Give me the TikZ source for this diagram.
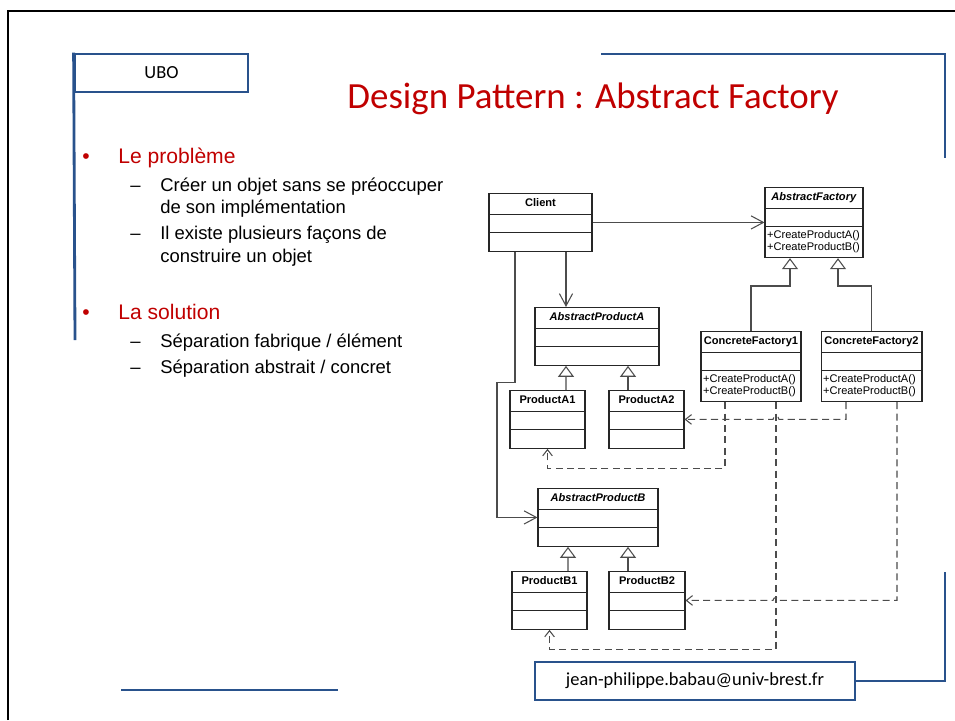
\documentclass[tikz,border=0pt]{standalone}
\usepackage{fontspec}
\setmainfont{Liberation Sans}
\newfontfamily\calibri{Carlito}
\usetikzlibrary{shapes.multipart,arrows.meta,calc}

\definecolor{slidered}{RGB}{192,0,0}
\definecolor{slideblue}{RGB}{41,82,140}

% compartments of a class box
\newcommand\namepart[1]{\rule[-4pt]{0pt}{11.3pt}#1}
\newcommand\emptypart{\rule{0pt}{9.9pt}}
\newcommand\opline[1]{\makebox[\linewidth][l]{\hspace{1.2pt}#1}}
\newcommand\opspart{\rule{0pt}{6.5pt}\opline{+CreateProductA()}\\
  \opline{+CreateProductB()}\rule[-3.6pt]{0pt}{3.6pt}}

\begin{document}
\begin{tikzpicture}[x=0.02cm,y=-0.02cm,
    umlclass/.style={rectangle split, rectangle split parts=3, draw=black!85,
      line width=0.6pt, fill=white, text width=#1, align=center, inner xsep=0pt,
      inner ysep=0pt, anchor=north, font=\fontsize{6.3}{6.8}\selectfont},
    assoc/.style={draw=black!70, line width=0.6pt, -{Straight Barb[length=7pt,width=7.5pt]}},
    inherit/.style={draw=black!70, line width=0.6pt, -{Triangle[open,length=6.2pt,width=9pt,fill=white]}},
    depend/.style={draw=black!70, line width=0.6pt, dash pattern=on 4pt off 2.5pt,
      -{Straight Barb[length=3.5pt,width=5.5pt]}},
    blueline/.style={draw=slideblue, line width=1.6pt},
    bulletmark/.style={anchor=base west, inner sep=0pt, text=slidered, font=\fontsize{12}{14}\selectfont},
    heading/.style={anchor=base west, inner sep=0pt, text=slidered, font=\fontsize{12}{14}\selectfont},
    dashmark/.style={anchor=base west, inner sep=0pt, font=\fontsize{10.5}{12.5}\selectfont},
    subitem/.style={anchor=base west, inner sep=0pt, font=\fontsize{10.5}{12.5}\selectfont}]
  \useasboundingbox (0,0) rectangle (955,720);

  % slide frame and decoration
  \draw[line width=1.2pt] (8,720) -- (8,11) -- (955,11);
  \node[draw=slideblue, line width=1.6pt, minimum width=3.46cm, minimum height=0.76cm,
    inner sep=0pt, font=\calibri\fontsize{10.5}{12}\selectfont] (ubo) at (161.5,73) {UBO};
  \draw[blueline] (ubo.north west) -- (75,340);
  \draw[blueline] (601,54) -- (945,54) -- (945,158);
  \draw[blueline] (121,690) -- (338,690);
  \node[draw=slideblue, line width=1.6pt, minimum width=6.4cm, minimum height=0.76cm,
    inner sep=0pt, font=\calibri\fontsize{10.5}{12}\selectfont] (mail) at (695,681)
    {jean-philippe.babau@univ-brest.fr};
  \draw[blueline] (mail.east) -| (945,572);

  \node[anchor=base, inner sep=0pt, text=slidered, font=\calibri\fontsize{21}{24}\selectfont]
    (title) at (593,108) {Design Pattern : Abstract Factory};

  % text
  \node[bulletmark] (b1) at (82,163) {•};
  \node[heading] (h1) at (118,163) {Le problème};
  \node[dashmark] (d1) at (130,191) {–};
  \node[subitem] (s1a) at (160,191) {Créer un objet sans se préoccuper};
  \node[subitem] (s1b) at (160,213) {de son implémentation};
  \node[dashmark] (d2) at (130,239) {–};
  \node[subitem] (s2a) at (160,239) {Il existe plusieurs façons de};
  \node[subitem] (s2b) at (160,262) {construire un objet};
  \node[bulletmark] (b2) at (82,319) {•};
  \node[heading] (h2) at (118,319) {La solution};
  \node[dashmark] (d3) at (130,347) {–};
  \node[subitem] (s3) at (160,347) {Séparation fabrique / élément};
  \node[dashmark] (d4) at (130,373) {–};
  \node[subitem] (s4) at (160,373) {Séparation abstrait / concret};

  % classes
  \node[umlclass=2.06cm] (client) at (540.5,193)
    {\namepart{\textbf{Client}}\nodepart{second}\emptypart\nodepart{third}\emptypart};
  \node[umlclass=1.96cm] (af) at (814,187)
    {\namepart{\textbf{\textit{AbstractFactory}}}\nodepart{second}\emptypart\nodepart{third}\opspart};
  \node[umlclass=2.0cm] (cf1) at (751,331)
    {\namepart{\textbf{ConcreteFactory1}}\nodepart{second}\emptypart\nodepart{third}\opspart};
  \node[umlclass=2.02cm] (cf2) at (871.5,331)
    {\namepart{\textbf{ConcreteFactory2}}\nodepart{second}\emptypart\nodepart{third}\opspart};
  \node[umlclass=2.48cm] (apa) at (597,307)
    {\namepart{\textbf{\textit{AbstractProductA}}}\nodepart{second}\emptypart\nodepart{third}\emptypart};
  \node[umlclass=1.5cm] (pa1) at (547.5,390)
    {\namepart{\textbf{ProductA1}}\nodepart{second}\emptypart\nodepart{third}\emptypart};
  \node[umlclass=1.5cm] (pa2) at (646.5,390)
    {\namepart{\textbf{ProductA2}}\nodepart{second}\emptypart\nodepart{third}\emptypart};
  \node[umlclass=2.4cm] (apb) at (598,488)
    {\namepart{\textbf{\textit{AbstractProductB}}}\nodepart{second}\emptypart\nodepart{third}\emptypart};
  \node[umlclass=1.5cm] (pb1) at (549.5,571)
    {\namepart{\textbf{ProductB1}}\nodepart{second}\emptypart\nodepart{third}\emptypart};
  \node[umlclass=1.52cm] (pb2) at (647,571)
    {\namepart{\textbf{ProductB2}}\nodepart{second}\emptypart\nodepart{third}\emptypart};

  % associations
  \draw[assoc] (client.east) -- (client.east -| af.west);
  \coordinate (ca) at ($(client.south)+(25.5,0)$);
  \draw[assoc] (ca) -- (ca |- apa.north);
  \draw[assoc] ($(client.south)+(-25.5,0)$) -- ++(0,131) -- ++(-18,0) |- (apb.west);

  % inheritance
  \draw[inherit] (cf1.north) -- ++(0,-45) -| ($(af.south)+(-24,0)$);
  \draw[inherit] (cf2.north) -- ++(0,-45) -| ($(af.south)+(24,0)$);
  \draw[inherit] ($(pa1.north)+(18.5,0)$) -- ($(apa.south)+(-31,0)$);
  \draw[inherit] ($(pa2.north)+(-18.5,0)$) -- ($(apa.south)+(31,0)$);
  \draw[inherit] ($(pb1.north)+(18.5,0)$) -- ($(apb.south)+(-30,0)$);
  \draw[inherit] ($(pb2.north)+(-19,0)$) -- ($(apb.south)+(30,0)$);

  % creations
  \coordinate (f1l) at ($(cf1.south)+(-26,0)$);
  \coordinate (f1r) at ($(cf1.south)+(25,0)$);
  \coordinate (f2l) at ($(cf2.south)+(-25.5,0)$);
  \coordinate (f2r) at ($(cf2.south)+(25.5,0)$);
  \draw[depend] (f1l) -- ++(0,66) -| (pa1.south);
  \draw[depend] (f1r) -- ++(0,247) -| (pb1.south);
  \draw[depend] (f2l) |- ($(f1r |- pa2.east)+(3,0)$) arc[start angle=0,end angle=-180,radius=3]
    -- (pa2.east);
  \draw[depend] (f2r) |- ($(f1r |- pb2.east)+(3,0)$) arc[start angle=0,end angle=-180,radius=3]
    -- (pb2.east);
\end{tikzpicture}
\end{document}
